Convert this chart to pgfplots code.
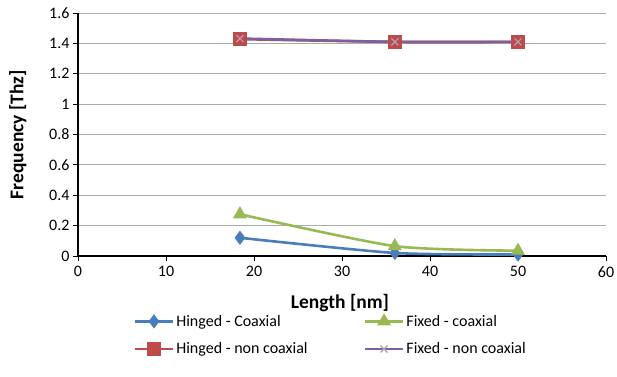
\documentclass[border=0pt]{standalone}
\usepackage{fontspec}
\setmainfont{Carlito}
\usepackage{pgfplots}
\pgfplotsset{compat=1.18}
\definecolor{cblue}{HTML}{4A7EBB}
\definecolor{cred}{HTML}{BE4B48}
\definecolor{cgreen}{HTML}{98B954}
\definecolor{cpurple}{HTML}{7D60A0}
\begin{document}
\begin{tikzpicture}
\path[use as bounding box] (-78pt,-120pt) rectangle (539pt,256pt);
\begin{axis}[
  at={(0pt,0pt)}, anchor=south west,
  scale only axis,
  width=528pt, height=243pt,
  xmin=0, xmax=60, ymin=0, ymax=1.6,
  xtick={0,10,...,60},
  ytick={0,0.2,...,1.6},
  yticklabels={0,0.2,0.4,0.6,0.8,1,1.2,1.4,1.6},
  xticklabels={0,10,20,30,40,50,60},
  axis x line*=bottom, axis y line*=left,
  axis line style={black, line width=1.2pt, -},
  tick style={black, line width=1pt},
  tick align=outside, major tick length=5pt,
  ymajorgrids, grid style={gray!65, line width=1pt},
  tick label style={font=\fontsize{16}{18}\selectfont},
  xticklabel style={yshift=-2pt},
  xlabel={\textbf{Length [nm]}},
  ylabel={\textbf{Frequency [Thz]}},
  label style={font=\fontsize{19.5}{21}\selectfont},
  xlabel style={at={(axis description cs:0.496,-0.193)}, anchor=center},
  ylabel style={at={(axis description cs:-0.114,0.5)}, anchor=center, rotate=0},
  legend columns=2,
  legend cell align=left,
  legend style={draw=none, at={(axis description cs:0.105,-0.234)}, anchor=north west,
    font=\fontsize{16}{18}\selectfont,
    /tikz/every even column/.append style={column sep=54pt},
    row sep=11pt, inner sep=0pt},
  legend image code/.code={\draw[mark repeat=2,mark phase=2] plot coordinates {(0cm,0cm) (0.67cm,0cm) (1.34cm,0cm)};},
  every axis plot/.append style={line width=2.6pt, smooth, tension=0.4},
]
\addplot[cblue, mark=diamond*, mark size=5pt, mark options={solid}] coordinates {(18.4,0.12) (36,0.02) (50,0.01)};
\addlegendentry{Hinged - Coaxial}
\addplot[cgreen, mark=triangle*, mark size=5.5pt] coordinates {(18.4,0.275) (36,0.065) (50,0.035)};
\addlegendentry{Fixed - coaxial}
\addplot[cred, mark=square*, mark size=5.5pt] coordinates {(18.4,1.428) (36,1.41) (50,1.41)};
\addlegendentry{Hinged - non coaxial}
\addplot[cpurple, mark=x, mark size=5pt, mark options={line width=1.2pt, color=cpurple!60}] coordinates {(18.4,1.432) (36,1.41) (50,1.41)};
\addlegendentry{Fixed - non coaxial}
\end{axis}
\end{tikzpicture}
\end{document}
